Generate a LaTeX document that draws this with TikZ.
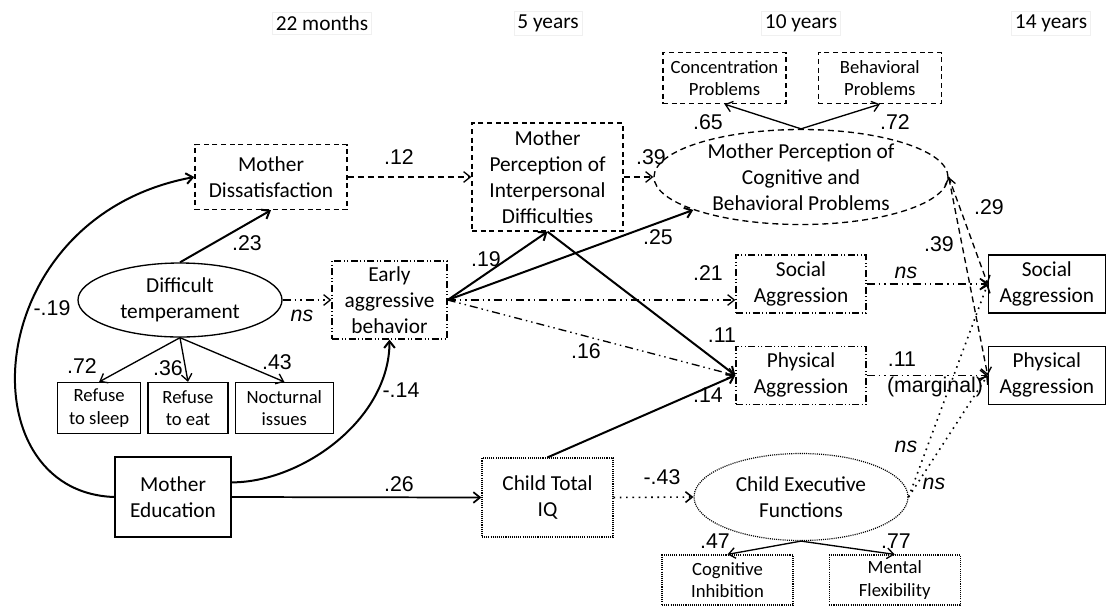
\documentclass[tikz,border=0pt]{standalone}
\usepackage{fontspec}
\setmainfont{Carlito}
\newfontfamily\numfont{Liberation Sans}
\usetikzlibrary{shapes.geometric, arrows.meta, positioning}

\begin{document}
\begin{tikzpicture}[
        x=0.75pt, y=-0.75pt,
        node distance=4.5pt and 4.5pt,
        >={Straight Barb[length=5pt,width=8pt]},
        var/.style={
                rectangle, draw, line width=1pt, inner sep=0pt,
                align=center, font=\fontsize{16}{19.5}\selectfont
            },
        ind/.style={var, font=\fontsize{14}{17}\selectfont},
        latent/.style={var, ellipse},
        dashbox/.style={dash pattern=on 3.75pt off 2.75pt},
        longdash/.style={dash pattern=on 4.5pt off 3pt},
        ddbox/.style={dash pattern=on 5.25pt off 1.9pt on 0.75pt off 1.9pt on 0.75pt off 1.9pt},
        dotbox/.style={line width=0.9pt, dash pattern=on 0.8pt off 0.8pt},
        hdr/.style={draw=black!6, inner sep=2.5pt, font=\fontsize{16}{19}\selectfont},
        coef/.style={inner sep=0pt, font=\numfont\fontsize{16}{18}\selectfont},
        nsig/.style={coef, font=\numfont\itshape\fontsize{16}{18}\selectfont},
        arrow/.style={->, line width=1pt},
        bold/.style={->, line width=1.5pt},
        dasharrow/.style={arrow, longdash},
        ddarrow/.style={arrow, dash pattern=on 6pt off 3pt on 1.1pt off 3pt on 1.1pt off 3pt},
        dotarrow/.style={arrow, line width=1.2pt, dash pattern=on 1.2pt off 3.5pt}
    ]
    \useasboundingbox (0,0) rectangle (1106,608);

    \node[hdr] (h22) at (322,23) {22 months};
    \node[hdr] (h5) at (548,23) {5 years};
    \node[hdr] (h10) at (801,23) {10 years};
    \node[hdr] (h14) at (1051,23) {14 years};

    \node[var, dashbox, minimum width=114pt, minimum height=48.75pt] (mdis) at (271,177) {Mother\\Dissatisfaction};
    \node[latent, minimum width=153pt, minimum height=55.5pt] (temp) at (180,300) {Difficult\\temperament};
    \node[ind, minimum width=60pt, minimum height=38.25pt] (reat) at (188,408) {Refuse\\to eat};
    \node[ind, minimum width=62.25pt, minimum height=38.25pt, left=of reat] (rsleep) {Refuse\\to sleep};
    \node[ind, minimum width=73.5pt, minimum height=38.25pt, right=of reat] (noct) {Nocturnal\\issues};
    \node[var, minimum width=87pt, minimum height=60pt] (medu) at (173,497) {Mother\\Education};
    \node[var, ddbox, minimum width=86.25pt, minimum height=58.5pt] (early) at (389.5,300) {Early\\aggressive\\behavior};

    \node[var, dashbox, minimum width=113.25pt, minimum height=81pt] (mpid) at (547.5,177) {Mother\\Perception of\\Interpersonal\\Difficulties};
    \node[var, dotbox, minimum width=98.25pt, minimum height=59.25pt] (iq) at (547.5,497.5) {Child Total\\IQ};

    \node[latent, longdash, minimum width=220.5pt, minimum height=71.25pt] (mpcb) at (801,177) {Mother Perception of\\Cognitive and\\Behavioral Problems};
    \node[ind, dashbox, minimum width=92.25pt, minimum height=38.25pt] (conc) at (724.5,78) {Concentration\\Problems};
    \node[ind, dashbox, minimum width=92.25pt, minimum height=38.25pt, right=23.25pt of conc] (behv) {Behavioral\\Problems};
    \node[var, ddbox, minimum width=97.5pt, minimum height=43.5pt] (sa10) at (801,284) {Social\\Aggression};
    \node[var, ddbox, minimum width=97.5pt, minimum height=43.5pt, below=24pt of sa10] (pa10) {Physical\\Aggression};
    \node[latent, dotbox, minimum width=160.5pt, minimum height=65.25pt] (cef) at (801,497) {Child Executive\\Functions};
    \node[ind, dotbox, minimum width=98.25pt, minimum height=37.5pt] (cinh) at (727.5,580) {Cognitive\\Inhibition};
    \node[ind, dotbox, minimum width=98.25pt, minimum height=37.5pt, right=26.25pt of cinh] (mflex) {Mental\\Flexibility};

    \node[var, minimum width=87.75pt, minimum height=43.5pt, right=90.75pt of sa10] (sa14) {Social\\Aggression};
    \node[var, minimum width=87.75pt, minimum height=43.5pt, right=90.75pt of pa10] (pa14) {Physical\\Aggression};

    \draw[bold] (medu.west) .. controls +(-150,-5) and +(-215,40) .. (mdis.west);
    \draw[bold] (medu.14) .. controls +(70,0) and +(0,80) .. (early.south);
    \draw[arrow, line width=1.3pt] (medu.east) -- (iq.west);
    \draw[bold] (temp.north) -- (mdis.south);
    \draw[ddarrow] (temp.east) -- (early.west);
    \draw[arrow] (temp.south) -- (rsleep.north);
    \draw[arrow] (temp.south) -- (reat.north);
    \draw[arrow] (temp.south) -- (noct.north);
    \draw[dasharrow] (mdis.east) -- (mpid.west);
    \draw[dasharrow] (mpid.east) -- (mpcb.west);
    \draw[bold] (early.east) -- (mpid.south);
    \draw[bold] (early.east) -- (mpcb.197);
    \draw[ddarrow] (early.east) -- (early.east -| sa10.west);
    \draw[ddarrow] (early.east) -- (pa10.west);
    \draw[bold] (mpid.south) -- (pa10.west);
    \draw[bold] (iq.north) -- (pa10.west);
    \draw[dotarrow] (iq.east) -- (cef.west);
    \draw[arrow] (mpcb.north) -- (conc.south);
    \draw[arrow] (mpcb.north) -- (behv.south);
    \draw[arrow] (cef.south) -- (cinh.north);
    \draw[arrow] (cef.south) -- (mflex.north);
    \draw[ddarrow] (sa10.east) -- (sa14.west);
    \draw[ddarrow] (pa10.east) -- (pa14.west);
    \draw[dasharrow] (mpcb.east) -- (sa14.west);
    \draw[dasharrow, <->] (mpcb.east) -- (pa14.west);
    \draw[dotarrow] (cef.east) -- (sa14.west);
    \draw[dotarrow] (cef.east) -- (pa14.west);

    \node[coef] (c19a) at (52,308) {-.19};
    \node[coef] (c23) at (247,243) {.23};
    \node[nsig] (ns1) at (302,316) {ns};
    \node[coef] (c72a) at (82,366) {.72};
    \node[coef] (c36) at (168,368) {.36};
    \node[coef] (c43a) at (277,362) {.43};
    \node[coef] (c14a) at (401,390) {-.14};
    \node[coef] (c26) at (399,484) {.26};
    \node[coef] (c12) at (399,157) {.12};
    \node[coef] (c39a) at (651,157) {.39};
    \node[coef] (c19b) at (486,259) {.19};
    \node[coef] (c25) at (658,237) {.25};
    \node[coef] (c21) at (708,273) {.21};
    \node[coef] (c16) at (586,351) {.16};
    \node[coef] (c11a) at (722,335) {.11};
    \node[coef] (c14b) at (708,395) {.14};
    \node[coef] (c43b) at (662,477) {-.43};
    \node[coef] (c65) at (708,122) {.65};
    \node[coef] (c72b) at (895,122) {.72};
    \node[coef] (c47) at (715,541) {.47};
    \node[coef] (c77) at (896,541) {.77};
    \node[coef] (c29) at (989,207) {.29};
    \node[coef] (c39b) at (939,244) {.39};
    \node[nsig] (ns2) at (906,273) {ns};
    \node[coef] (c11b) at (902,359) {.11};
    \node[coef] (cmarg) at (935,387) {(marginal)};
    \node[nsig] (ns3) at (906,447) {ns};
    \node[nsig] (ns4) at (934,484) {ns};
\end{tikzpicture}
\end{document}
